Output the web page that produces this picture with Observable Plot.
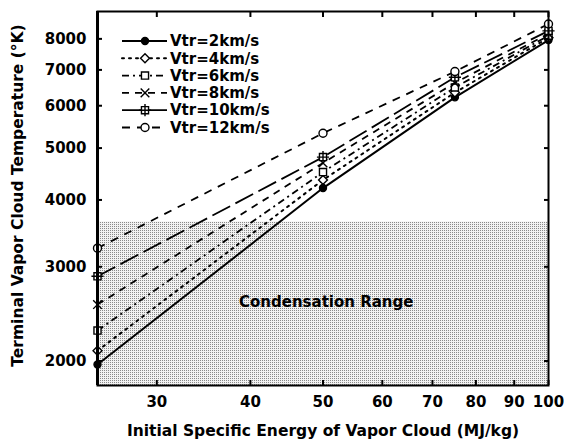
<!DOCTYPE html>
<html>
<head>
<meta charset="utf-8">
<script src="https://cdn.jsdelivr.net/npm/d3@7"></script>
<script src="https://cdn.jsdelivr.net/npm/@observablehq/plot@0.6"></script>
<style>
  html, body { margin: 0; padding: 0; background: #fff; }
  #chart { width: 564px; height: 447px; }
</style>
</head>
<body>
<div id="chart"></div>
<script>
// ---- data ----
const energy = [25, 50, 75, 100];                 // MJ/kg
const seriesNames = ["Vtr=2km/s", "Vtr=4km/s", "Vtr=6km/s", "Vtr=8km/s", "Vtr=10km/s", "Vtr=12km/s"];
const vtr2  = [1970, 4210, 6220, 7960];
const vtr4  = [2090, 4360, 6350, 8040];
const vtr6  = [2280, 4510, 6490, 8110];
const vtr8  = [2550, 4690, 6620, 8180];
const vtr10 = [2880, 4810, 6780, 8280];
const vtr12 = [3250, 5330, 6950, 8530];
const condensationTop = 3640;                     // K, upper edge of shaded band
const condensationLabel = "Condensation Range";
const xTicks = [30, 40, 50, 60, 70, 80, 90, 100];
const yTicks = [2000, 3000, 4000, 5000, 6000, 7000, 8000];
const xTitle = "Initial Specific Energy of Vapor Cloud (MJ/kg)";
const yTitle = "Terminal Vapor Cloud Temperature (°K)";

const seriesValues = [vtr2, vtr4, vtr6, vtr8, vtr10, vtr12];

// ---- styles (kept separate from data) ----
const styles = [
  {dash: null,          width: 2.0, symbols: ["circle"],         fill: "black"},
  {dash: "2,5",         width: 2.0, symbols: ["diamond2"],       fill: "white"},
  {dash: "7,4,2,4",     width: 1.8, symbols: ["square"],         fill: "white"},
  {dash: "7,6",         width: 1.8, symbols: ["times"],          fill: "white"},
  {dash: "20,6",        width: 1.8, symbols: ["square", "plus"], fill: "white"},
  {dash: "8,7",         width: 1.8, symbols: ["circle"],         fill: "white"}
];

const rows = seriesNames.map((name, i) =>
  energy.map((e, j) => ({series: name, idx: i, energy: e, temp: seriesValues[i][j]}))
);

const font = "DejaVu Sans";
const xMin = energy[0], xMax = energy[energy.length - 1];
const yMin = 1800, yMax = 9000;

const marks = [];
// condensation band
marks.push(Plot.rect([{x1: xMin, x2: xMax, y1: yMin, y2: condensationTop}],
  {x1: "x1", x2: "x2", y1: "y1", y2: "y2", fill: "url(#stipple)"}));
marks.push(Plot.text([{x: 50.5, y: 2580, t: condensationLabel}],
  {x: "x", y: "y", text: "t", fontSize: 15, fontWeight: "bold", fill: "black"}));

// lines and markers
rows.forEach((data, i) => {
  const s = styles[i];
  marks.push(Plot.line(data, {
    x: "energy", y: "temp", stroke: "black", strokeWidth: s.width,
    strokeDasharray: s.dash || undefined, strokeLinecap: s.dash === "2,5" ? "round" : "butt"
  }));
  s.symbols.forEach(sym => {
    marks.push(Plot.dot(data, {
      x: "energy", y: "temp", symbol: () => sym, r: sym === "circle" && i === 0 ? 3.5 : 4,
      fill: (sym === "plus" || sym === "times") ? "none" : s.fill,
      stroke: "black", strokeWidth: 1.4
    }));
  });
});

// axes: inward ticks on all four sides, labels on left and bottom
marks.push(Plot.axisX({ticks: xTicks, tickSize: 0, tickPadding: 11, tickFormat: d => String(d),
  fontSize: 15, fontWeight: "bold", label: null}));
marks.push(Plot.axisX({ticks: xTicks, tickSize: 5, insetBottom: 5, tickFormat: () => "", label: null, strokeWidth: 2}));
marks.push(Plot.axisX({anchor: "top", ticks: xTicks, tickSize: 5, insetTop: 5, tickFormat: () => "", label: null, strokeWidth: 2}));
marks.push(Plot.axisY({ticks: yTicks, tickSize: 0, tickPadding: 11, tickFormat: d => String(d),
  fontSize: 15, fontWeight: "bold", label: null}));
marks.push(Plot.axisY({ticks: yTicks, tickSize: 5, insetLeft: 5, tickFormat: () => "", label: null, strokeWidth: 2}));
marks.push(Plot.axisY({anchor: "right", ticks: yTicks, tickSize: 5, insetRight: 5, tickFormat: () => "", label: null, strokeWidth: 2}));

marks.push(Plot.frame({stroke: "black", strokeWidth: 2}));
marks.push(Plot.ruleX([xMin], {stroke: "black", strokeWidth: 3}));

// axis titles
marks.push(Plot.text([xTitle], {text: d => d, frameAnchor: "bottom", dy: 50, textAnchor: "middle",
  fontSize: 15.5, fontWeight: "bold", fill: "black"}));
marks.push(Plot.text([yTitle], {text: d => d, frameAnchor: "left", textAnchor: "middle", dx: -79, dy: -3, rotate: -90,
  fontSize: 15.5, fontWeight: "bold", fill: "black"}));

const chart = Plot.plot({
  width: 564, height: 447,
  marginLeft: 97, marginRight: 16, marginTop: 11, marginBottom: 62,
  x: {type: "log", domain: [xMin, xMax]},
  y: {type: "log", domain: [yMin, yMax]},
  style: {fontFamily: font, color: "black", background: "white", overflow: "visible"},
  marks
});

// stipple pattern for the condensation band
const svg = d3.select(chart);
const defs = svg.insert("defs", ":first-child");
const pat = defs.append("pattern").attr("id", "stipple")
  .attr("patternUnits", "userSpaceOnUse").attr("width", 2).attr("height", 2);
pat.append("rect").attr("width", 2).attr("height", 2).attr("fill", "#f2f2f2");
pat.append("rect").attr("width", 1).attr("height", 1).attr("fill", "#8a8a8a");

// legend (inside the plot, top-left)
const legend = svg.append("g").attr("transform", "translate(122,41)")
  .attr("font-family", font).attr("font-size", 15).attr("font-weight", "bold")
  .attr("text-anchor", "start");
const symMap = {circle: d3.symbolCircle, diamond2: d3.symbolDiamond2, square: d3.symbolSquare,
                times: d3.symbolTimes, plus: d3.symbolPlus};
seriesNames.forEach((name, i) => {
  const s = styles[i];
  const g = legend.append("g").attr("transform", `translate(0,${i * 17.3})`);
  g.append("line").attr("x1", 0).attr("x2", 45).attr("y1", 0).attr("y2", 0)
    .attr("stroke", "black").attr("stroke-width", s.width)
    .attr("stroke-dasharray", s.dash).attr("stroke-linecap", s.dash === "2,5" ? "round" : "butt");
  s.symbols.forEach(sym => {
    const r = sym === "circle" && i === 0 ? 3.5 : 4;
    g.append("path").attr("transform", "translate(23,0)")
      .attr("d", d3.symbol().type(symMap[sym]).size(Math.PI * r * r)())
      .attr("fill", (sym === "plus" || sym === "times") ? "none" : s.fill)
      .attr("stroke", "black").attr("stroke-width", 1.4);
  });
  g.append("text").attr("x", 48).attr("y", 0).attr("dy", "0.35em")
    .attr("text-anchor", "start").text(name);
});

document.getElementById("chart").appendChild(chart);
</script>
</body>
</html>
